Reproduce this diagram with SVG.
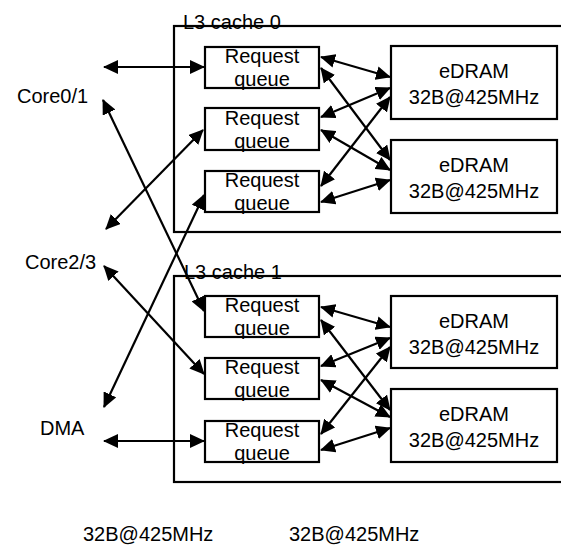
<svg xmlns="http://www.w3.org/2000/svg" width="561" height="545" viewBox="0 0 561 545">
  <style>
    text { font-family: "Liberation Sans", Arial, sans-serif; font-size: 20px; fill: #000; }
    .mid { text-anchor: middle; }
    .box { fill: #fff; stroke: #000; stroke-width: 2.2; }
    .cache { fill: none; stroke: #000; stroke-width: 2.2; }
    .link { stroke: #000; stroke-width: 2.2; fill: none; marker-start: url(#head); marker-end: url(#head); }
  </style>
  <defs>
    <marker id="head" markerUnits="userSpaceOnUse" markerWidth="16" markerHeight="14" refX="14" refY="7" orient="auto-start-reverse">
      <path d="M0,0 L15,7 L0,14 z" fill="#000"/>
    </marker>
  </defs>

  <rect width="561" height="545" fill="#fff"/>

  <!-- cache outlines, open to the right -->
  <g id="cache0">
    <rect class="cache" x="174" y="26" width="400" height="206"/>
    <text x="183" y="29">L3 cache 0</text>
  </g>
  <g id="cache1">
    <rect class="cache" x="174" y="276" width="400" height="206"/>
    <text x="184" y="279">L3 cache 1</text>
  </g>

  <!-- request queues -->
  <g id="rq0a"><rect class="box" x="205" y="47" width="114" height="41"/><text class="mid" x="262" y="63">Request</text><text class="mid" x="262" y="86">queue</text></g>
  <g id="rq0b"><rect class="box" x="205" y="108" width="114" height="42"/><text class="mid" x="262" y="125">Request</text><text class="mid" x="262" y="148">queue</text></g>
  <g id="rq0c"><rect class="box" x="205" y="171" width="114" height="41"/><text class="mid" x="262" y="187">Request</text><text class="mid" x="262" y="210">queue</text></g>
  <g id="rq1a"><rect class="box" x="205" y="296" width="114" height="41"/><text class="mid" x="262" y="312">Request</text><text class="mid" x="262" y="335">queue</text></g>
  <g id="rq1b"><rect class="box" x="205" y="358" width="114" height="41"/><text class="mid" x="262" y="374">Request</text><text class="mid" x="262" y="397">queue</text></g>
  <g id="rq1c"><rect class="box" x="205" y="421" width="114" height="41"/><text class="mid" x="262" y="437">Request</text><text class="mid" x="262" y="460">queue</text></g>

  <!-- eDRAM banks -->
  <g id="ed0a"><rect class="box" x="391" y="46" width="166" height="73"/><text class="mid" x="474" y="78">eDRAM</text><text class="mid" x="474" y="104">32B@425MHz</text></g>
  <g id="ed0b"><rect class="box" x="391" y="140" width="166" height="73"/><text class="mid" x="474" y="172">eDRAM</text><text class="mid" x="474" y="198">32B@425MHz</text></g>
  <g id="ed1a"><rect class="box" x="391" y="296" width="166" height="72"/><text class="mid" x="474" y="328">eDRAM</text><text class="mid" x="474" y="354">32B@425MHz</text></g>
  <g id="ed1b"><rect class="box" x="391" y="389" width="166" height="73"/><text class="mid" x="474" y="421">eDRAM</text><text class="mid" x="474" y="447">32B@425MHz</text></g>

  <!-- requesters -->
  <g id="core01"><text x="17" y="103">Core0/1</text></g>
  <g id="core23"><text x="25" y="269">Core2/3</text></g>
  <g id="dma"><text x="40" y="435">DMA</text></g>

  <!-- link rates -->
  <g id="rates">
    <text x="83" y="541">32B@425MHz</text>
    <text x="289" y="541">32B@425MHz</text>
  </g>

  <g id="connectors">
    <!-- requesters to request queues -->
    <line class="link" x1="104" y1="67" x2="204" y2="67"/>
    <line class="link" x1="103" y1="100" x2="204" y2="311"/>
    <line class="link" x1="106" y1="229" x2="203" y2="130"/>
    <line class="link" x1="104" y1="407" x2="204" y2="195"/>
    <line class="link" x1="104" y1="266" x2="204" y2="374"/>
    <line class="link" x1="104" y1="441" x2="204" y2="441"/>

    <!-- cache 0 crossbar -->
    <line class="link" x1="321" y1="57" x2="390" y2="77"/>
    <line class="link" x1="321" y1="68" x2="390" y2="160"/>
    <line class="link" x1="321" y1="117" x2="390" y2="88"/>
    <line class="link" x1="321" y1="130" x2="390" y2="170"/>
    <line class="link" x1="321" y1="186" x2="390" y2="97"/>
    <line class="link" x1="321" y1="202" x2="390" y2="180"/>

    <!-- cache 1 crossbar -->
    <line class="link" x1="321" y1="307" x2="390" y2="327"/>
    <line class="link" x1="321" y1="320" x2="390" y2="410"/>
    <line class="link" x1="321" y1="366" x2="390" y2="338"/>
    <line class="link" x1="321" y1="380" x2="390" y2="417"/>
    <line class="link" x1="321" y1="434" x2="390" y2="347"/>
    <line class="link" x1="321" y1="450" x2="390" y2="428"/>
  </g>
</svg>
